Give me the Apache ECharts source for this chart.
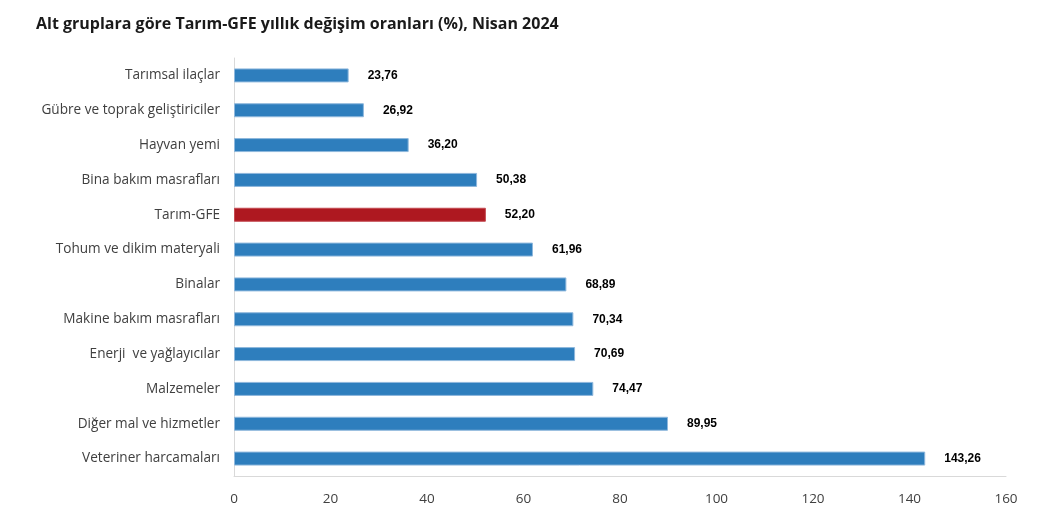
<!DOCTYPE html>
<html><head><meta charset="utf-8">
<script src="https://cdn.jsdelivr.net/npm/echarts@6/dist/echarts.min.js"></script>
<style>html,body{margin:0;padding:0;background:#fff}#c{width:1041px;height:516px}</style>
</head><body><div id="c"></div>
<script>
const categories = ["Tarımsal ilaçlar","Gübre ve toprak geliştiriciler","Hayvan yemi","Bina bakım masrafları","Tarım-GFE","Tohum ve dikim materyali","Binalar","Makine bakım masrafları","Enerji  ve yağlayıcılar","Malzemeler","Diğer mal ve hizmetler","Veteriner harcamaları"];
const values = [23.76,26.92,36.20,50.38,52.20,61.96,68.89,70.34,70.69,74.47,89.95,143.26];
const xTicks = [0,20,40,60,80,100,120,140,160];
const highlight = "Tarım-GFE";

const chart = echarts.init(document.getElementById('c'), null, {renderer:'canvas'});
chart.setOption({
  animation:false,
  title:{text:"Alt gruplara göre Tarım-GFE yıllık değişim oranları (%), Nisan 2024",left:31,top:11,
    textStyle:{fontFamily:"Open Sans",fontWeight:'bold',fontSize:16,color:'#1a1a1a'}},
  grid:{left:234,right:35,top:58,bottom:40},
  xAxis:{type:'value',min:xTicks[0],max:xTicks[xTicks.length-1],interval:20,
    axisLine:{show:true,lineStyle:{color:'#d9d9d9'}},axisTick:{show:false},splitLine:{show:false},
    axisLabel:{margin:16,fontFamily:"Open Sans",fontSize:13.5,color:'#404040'}},
  yAxis:{type:'category',inverse:true,data:categories,
    axisLine:{show:true,lineStyle:{color:'#d9d9d9'}},axisTick:{show:false},
    axisLabel:{margin:14,fontFamily:"Open Sans",fontSize:13.6,color:'#404040'}},
  series:[{type:'bar',barWidth:14,
    data:values.map((v,i)=>({value:v,itemStyle:{color:categories[i]===highlight?'#AE1820':'#2E7EBD',
      borderColor:categories[i]===highlight?'#c44a50':'#8fb8dd',borderWidth:1}})),
    label:{show:true,position:'right',distance:19,fontFamily:"Liberation Sans",fontWeight:'bold',fontSize:12,color:'#000',
      formatter:p=>p.value.toFixed(2).replace('.',',')}}]
});
</script></body></html>
